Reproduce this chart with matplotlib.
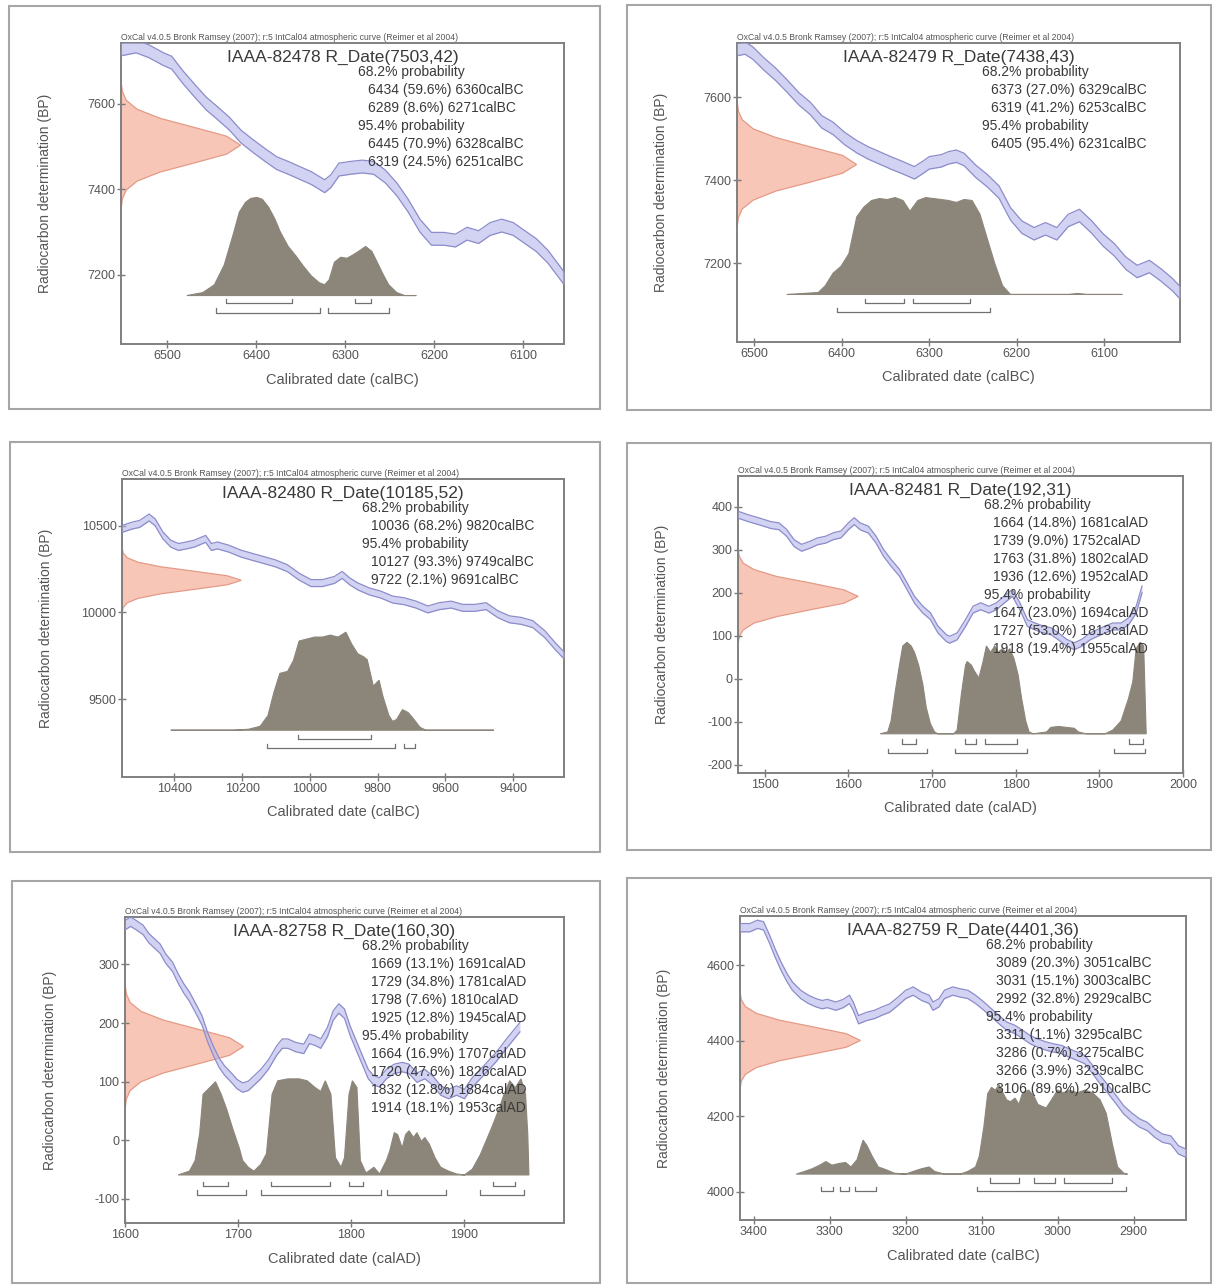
import matplotlib
matplotlib.use('Agg')
import matplotlib.pyplot as plt
from matplotlib.patches import Rectangle

plt.rcParams['font.family'] = ['Liberation Sans', 'DejaVu Sans']
plt.rcParams['axes.unicode_minus'] = False

FIG_W, FIG_H = 1213, 1285

HEADER = 'OxCal v4.0.5 Bronk Ramsey (2007); r:5 IntCal04 atmospheric curve (Reimer et al 2004)'

# ---- данные ----
lab_codes = ['IAAA-82478', 'IAAA-82479', 'IAAA-82480', 'IAAA-82481', 'IAAA-82758', 'IAAA-82759']
r_dates = ['7503,42', '7438,43', '10185,52', '192,31', '160,30', '4401,36']
eras = ['BC', 'BC', 'BC', 'AD', 'AD', 'BC']

# интервалы: (начало, процент, конец)
ranges_68 = [
    [(6434, 59.6, 6360), (6289, 8.6, 6271)],
    [(6373, 27.0, 6329), (6319, 41.2, 6253)],
    [(10036, 68.2, 9820)],
    [(1664, 14.8, 1681), (1739, 9.0, 1752), (1763, 31.8, 1802), (1936, 12.6, 1952)],
    [(1669, 13.1, 1691), (1729, 34.8, 1781), (1798, 7.6, 1810), (1925, 12.8, 1945)],
    [(3089, 20.3, 3051), (3031, 15.1, 3003), (2992, 32.8, 2929)],
]
ranges_95 = [
    [(6445, 70.9, 6328), (6319, 24.5, 6251)],
    [(6405, 95.4, 6231)],
    [(10127, 93.3, 9749), (9722, 2.1, 9691)],
    [(1647, 23.0, 1694), (1727, 53.0, 1813), (1918, 19.4, 1955)],
    [(1664, 16.9, 1707), (1720, 47.6, 1826), (1832, 12.8, 1884), (1914, 18.1, 1953)],
    [(3311, 1.1, 3295), (3286, 0.7, 3275), (3266, 3.9, 3239), (3106, 89.6, 2910)],
]

x_limits = [(6552, 6054), (6520, 6013), (10555, 9250), (1468, 2000), (1600, 1988), (3418, 2831)]
y_limits = [(7038, 7742), (7010, 7731), (9051, 10769), (-219, 472), (-141, 381), (3925, 4731)]
x_ticks = [[6500, 6400, 6300, 6200, 6100], [6500, 6400, 6300, 6200, 6100],
           [10400, 10200, 10000, 9800, 9600, 9400], [1500, 1600, 1700, 1800, 1900, 2000],
           [1600, 1700, 1800, 1900], [3400, 3300, 3200, 3100, 3000, 2900]]
y_ticks = [[7200, 7400, 7600], [7200, 7400, 7600], [9500, 10000, 10500],
           [-200, -100, 0, 100, 200, 300, 400], [-100, 0, 100, 200, 300],
           [4000, 4200, 4400, 4600]]

# калибровочная кривая: (год, BP) и полуширина полосы
p1_cal = [(6552, 7727), (6535, 7734), (6521, 7723), (6504, 7704), (6495, 7696), (6482, 7661),
          (6469, 7630), (6456, 7600), (6443, 7577), (6430, 7553), (6417, 7523), (6403, 7500),
          (6390, 7480), (6377, 7461), (6364, 7450), (6351, 7438), (6338, 7426), (6323, 7407),
          (6316, 7419), (6307, 7446), (6294, 7450), (6281, 7453), (6268, 7450), (6255, 7430),
          (6242, 7400), (6229, 7361), (6216, 7315), (6203, 7284), (6189, 7284), (6176, 7280),
          (6163, 7296), (6150, 7288), (6137, 7307), (6124, 7315), (6111, 7307), (6098, 7288),
          (6085, 7269), (6072, 7242), (6054, 7192)]
p2_cal = [(6520, 7715), (6511, 7719), (6502, 7707), (6489, 7680), (6476, 7656), (6463, 7628),
          (6449, 7596), (6436, 7573), (6423, 7541), (6410, 7525), (6397, 7501), (6383, 7481),
          (6370, 7466), (6357, 7454), (6344, 7442), (6330, 7430), (6317, 7418), (6308, 7430),
          (6300, 7442), (6286, 7447), (6278, 7454), (6269, 7458), (6260, 7450), (6247, 7422),
          (6233, 7398), (6220, 7371), (6207, 7319), (6194, 7287), (6180, 7271), (6167, 7283),
          (6154, 7271), (6141, 7303), (6128, 7315), (6114, 7287), (6101, 7256), (6088, 7232),
          (6075, 7200), (6062, 7180), (6048, 7192), (6035, 7172), (6022, 7149), (6013, 7129)]
p3_cal = [(10555, 10481), (10526, 10500), (10503, 10510), (10475, 10547), (10457, 10519),
          (10434, 10443), (10411, 10396), (10388, 10377), (10365, 10386), (10342, 10396),
          (10319, 10415), (10308, 10424), (10291, 10377), (10273, 10386), (10239, 10367),
          (10204, 10339), (10170, 10320), (10135, 10301), (10101, 10282), (10066, 10254),
          (10032, 10206), (9997, 10169), (9963, 10169), (9928, 10187), (9905, 10216),
          (9882, 10178), (9859, 10150), (9825, 10121), (9790, 10102), (9756, 10074),
          (9721, 10064), (9687, 10045), (9652, 10017), (9618, 10036), (9583, 10045),
          (9549, 10026), (9514, 10026), (9480, 10036), (9445, 9989), (9411, 9960),
          (9376, 9951), (9342, 9932), (9307, 9875), (9273, 9799), (9250, 9752)]
p4_cal = [(1468, 382), (1480, 374), (1494, 366), (1507, 358), (1517, 355), (1526, 340),
          (1535, 316), (1544, 305), (1554, 312), (1563, 320), (1573, 324), (1582, 332),
          (1591, 336), (1600, 355), (1607, 367), (1614, 355), (1624, 347), (1633, 324),
          (1642, 293), (1651, 270), (1661, 247), (1670, 216), (1679, 184), (1689, 161),
          (1698, 146), (1707, 115), (1717, 95), (1721, 91), (1730, 99), (1740, 130),
          (1749, 161), (1758, 169), (1768, 161), (1777, 169), (1786, 184), (1796, 200),
          (1805, 169), (1814, 130), (1823, 122), (1833, 115), (1842, 111), (1851, 99),
          (1861, 84), (1870, 76), (1879, 84), (1889, 99), (1898, 107), (1907, 115),
          (1916, 122), (1926, 122), (1935, 134), (1944, 161), (1951, 208)]
p5_cal = [(1600, 367), (1605, 373), (1610, 367), (1616, 359), (1621, 345), (1626, 336),
          (1631, 327), (1636, 310), (1642, 296), (1647, 276), (1652, 259), (1657, 245),
          (1662, 227), (1668, 205), (1673, 176), (1678, 153), (1683, 133), (1688, 119),
          (1694, 107), (1699, 96), (1704, 90), (1709, 93), (1714, 102), (1720, 113),
          (1727, 130), (1734, 153), (1739, 165), (1744, 165), (1751, 159), (1758, 156),
          (1763, 173), (1768, 170), (1773, 165), (1779, 185), (1784, 213), (1789, 225),
          (1794, 216), (1799, 187), (1805, 159), (1810, 136), (1815, 113), (1820, 102),
          (1825, 99), (1831, 113), (1838, 122), (1845, 125), (1851, 122), (1858, 107),
          (1865, 113), (1872, 102), (1879, 85), (1886, 79), (1893, 85), (1900, 79),
          (1907, 99), (1917, 119), (1928, 142), (1938, 167), (1949, 193)]
p6_cal = [(3418, 4700), (3405, 4700), (3395, 4709), (3387, 4705), (3379, 4669), (3372, 4634),
          (3364, 4598), (3356, 4567), (3349, 4545), (3338, 4523), (3328, 4510), (3318, 4501),
          (3310, 4496), (3303, 4499), (3292, 4492), (3282, 4499), (3274, 4510), (3269, 4492),
          (3262, 4456), (3251, 4465), (3241, 4470), (3231, 4479), (3221, 4487), (3210, 4505),
          (3200, 4523), (3190, 4532), (3179, 4518), (3169, 4510), (3164, 4492), (3156, 4501),
          (3149, 4523), (3138, 4532), (3128, 4527), (3118, 4523), (3108, 4510), (3097, 4492),
          (3087, 4474), (3077, 4456), (3067, 4439), (3056, 4430), (3046, 4417), (3036, 4403),
          (3026, 4394), (3015, 4386), (3005, 4381), (2995, 4377), (2985, 4368), (2974, 4359),
          (2964, 4350), (2954, 4324), (2944, 4297), (2933, 4270), (2923, 4244), (2913, 4217),
          (2903, 4199), (2892, 4182), (2882, 4173), (2872, 4155), (2862, 4142), (2851, 4137),
          (2841, 4111), (2831, 4102)]
cal_curves = [p1_cal, p2_cal, p3_cal, p4_cal, p5_cal, p6_cal]
cal_err = [15, 15, 20, 8, 8, 11]

# калиброванное распределение: (год, отн. вероятность)
p1_dist = [(6478, 0), (6460, 0.03), (6447, 0.11), (6436, 0.31), (6425, 0.65), (6419, 0.85),
           (6412, 0.95), (6406, 0.99), (6399, 1.0), (6393, 0.98), (6386, 0.90), (6379, 0.78),
           (6373, 0.65), (6364, 0.50), (6355, 0.40), (6347, 0.30), (6338, 0.20), (6329, 0.13),
           (6323, 0.11), (6318, 0.16), (6312, 0.34), (6305, 0.39), (6298, 0.38), (6292, 0.41),
           (6285, 0.45), (6277, 0.50), (6270, 0.45), (6264, 0.34), (6257, 0.21), (6251, 0.11),
           (6242, 0.03), (6233, 0), (6220, 0)]
p2_dist = [(6463, 0), (6427, 0.02), (6419, 0.09), (6410, 0.22), (6401, 0.29), (6392, 0.42),
           (6383, 0.80), (6375, 0.90), (6366, 0.97), (6357, 0.99), (6348, 0.98), (6339, 1.0),
           (6330, 0.97), (6322, 0.86), (6313, 0.97), (6304, 1.0), (6295, 0.99), (6286, 0.98),
           (6278, 0.97), (6269, 0.95), (6260, 0.98), (6251, 0.97), (6242, 0.83), (6233, 0.56),
           (6225, 0.32), (6216, 0.09), (6207, 0), (6140, 0), (6130, 0.01), (6120, 0), (6079, 0)]
p3_dist = [(10411, 0), (10227, 0), (10181, 0.01), (10147, 0.04), (10124, 0.15), (10107, 0.38),
           (10089, 0.58), (10066, 0.60), (10049, 0.71), (10032, 0.91), (10009, 0.93),
           (9986, 0.95), (9963, 0.95), (9940, 0.97), (9917, 0.95), (9894, 1.0), (9877, 0.88),
           (9859, 0.78), (9842, 0.75), (9831, 0.72), (9813, 0.45), (9796, 0.51), (9785, 0.35),
           (9767, 0.15), (9756, 0.09), (9744, 0.11), (9727, 0.21), (9710, 0.18), (9693, 0.11),
           (9675, 0.03), (9658, 0), (9457, 0)]
p4_dist = [(1638, 0), (1647, 0.02), (1651, 0.14), (1656, 0.46), (1661, 0.75), (1665, 0.96),
           (1670, 1.0), (1675, 0.96), (1679, 0.89), (1684, 0.75), (1689, 0.54), (1693, 0.29),
           (1698, 0.11), (1703, 0.02), (1707, 0), (1726, 0), (1730, 0.04), (1735, 0.43),
           (1740, 0.75), (1742, 0.79), (1747, 0.75), (1751, 0.68), (1756, 0.61), (1761, 0.79),
           (1765, 0.96), (1770, 0.89), (1775, 0.96), (1779, 0.89), (1784, 0.93), (1789, 0.89),
           (1793, 0.93), (1798, 0.82), (1803, 0.64), (1807, 0.39), (1812, 0.14), (1816, 0.02),
           (1821, 0), (1837, 0.02), (1842, 0.07), (1851, 0.08), (1861, 0.07), (1870, 0.06),
           (1875, 0.02), (1884, 0), (1907, 0), (1916, 0.04), (1926, 0.14), (1935, 0.39),
           (1940, 0.57), (1944, 0.93), (1949, 1.0), (1953, 0.96), (1956, 0)]
p5_dist = [(1647, 0), (1657, 0.04), (1662, 0.15), (1666, 0.43), (1669, 0.84), (1675, 0.91),
           (1680, 0.97), (1685, 0.84), (1690, 0.68), (1695, 0.49), (1701, 0.28), (1704, 0.15),
           (1709, 0.08), (1714, 0.04), (1720, 0.11), (1725, 0.22), (1730, 0.84), (1735, 0.98),
           (1744, 1.0), (1754, 1.0), (1761, 0.98), (1768, 0.91), (1773, 0.87), (1777, 0.98),
           (1782, 0.84), (1786, 0.18), (1791, 0.08), (1794, 0.18), (1798, 0.84), (1801, 0.98),
           (1805, 0.91), (1808, 0.15), (1813, 0.02), (1820, 0.08), (1825, 0.01), (1831, 0.15),
           (1834, 0.25), (1838, 0.44), (1841, 0.42), (1845, 0.28), (1848, 0.42), (1851, 0.46),
           (1855, 0.39), (1858, 0.44), (1862, 0.35), (1865, 0.39), (1869, 0.32), (1874, 0.18),
           (1879, 0.08), (1886, 0.04), (1893, 0.01), (1900, 0), (1907, 0.06), (1914, 0.21),
           (1919, 0.35), (1924, 0.49), (1931, 0.70), (1935, 0.84), (1940, 0.98), (1945, 0.91),
           (1950, 1.0), (1954, 0.84), (1956, 0.42), (1957, 0)]
p6_dist = [(3344, 0), (3333, 0.03), (3323, 0.06), (3313, 0.10), (3305, 0.14), (3297, 0.10),
           (3287, 0.12), (3279, 0.13), (3272, 0.08), (3264, 0.16), (3256, 0.38), (3251, 0.32),
           (3244, 0.20), (3236, 0.08), (3226, 0.05), (3215, 0.01), (3200, 0), (3190, 0.03),
           (3179, 0.06), (3169, 0.08), (3162, 0.03), (3149, 0), (3128, 0), (3118, 0.03),
           (3108, 0.08), (3103, 0.20), (3097, 0.53), (3092, 0.90), (3087, 0.97), (3082, 0.94),
           (3077, 1.0), (3072, 0.91), (3067, 0.83), (3062, 0.81), (3056, 0.85), (3051, 0.78),
           (3046, 0.91), (3038, 0.94), (3031, 0.87), (3026, 0.78), (3021, 0.76), (3015, 0.74),
           (3008, 0.83), (3000, 0.94), (2992, 0.91), (2985, 0.94), (2974, 0.91), (2964, 0.94),
           (2954, 0.91), (2944, 0.83), (2936, 0.68), (2928, 0.34), (2921, 0.08), (2913, 0.01),
           (2908, 0)]
cal_dists = [p1_dist, p2_dist, p3_dist, p4_dist, p5_dist, p6_dist]

# радиоуглеродное распределение слева: значения BP и общая форма
p1_red_bp = [7356, 7377, 7398, 7419, 7440, 7461, 7482, 7503, 7524, 7545, 7566, 7587, 7608, 7629, 7650]
p2_red_bp = [7288, 7309, 7331, 7352, 7374, 7395, 7417, 7438, 7460, 7481, 7503, 7524, 7546, 7567, 7589]
p3_red_bp = [10003, 10029, 10055, 10081, 10107, 10133, 10159, 10185, 10211, 10237, 10263, 10289,
             10315, 10341, 10367]
p4_red_bp = [83, 99, 114, 130, 145, 161, 176, 192, 207, 223, 238, 254, 269, 285, 300]
p5_red_bp = [55, 70, 85, 100, 115, 130, 145, 160, 175, 190, 205, 220, 235, 250, 265]
p6_red_bp = [4275, 4293, 4311, 4329, 4347, 4365, 4383, 4401, 4419, 4437, 4455, 4473, 4491, 4509, 4527]
red_bps = [p1_red_bp, p2_red_bp, p3_red_bp, p4_red_bp, p5_red_bp, p6_red_bp]
red_shape = [0.002, 0.011, 0.044, 0.135, 0.325, 0.607, 0.882, 1.0, 0.882, 0.607, 0.325, 0.135,
             0.044, 0.011, 0.002]

# ---- раскладка (пиксели) ----
axes_px = [(121, 43, 564, 344), (737, 43, 1180, 342), (122, 479, 564, 777),
           (738, 476, 1183, 773), (125, 917, 564, 1223), (740, 916, 1186, 1220)]
frames_px = [(9, 6, 600, 409), (627, 5, 1211, 410), (10, 442, 600, 852),
             (627, 443, 1211, 850), (12, 881, 600, 1283), (627, 878, 1211, 1283)]
# база, высота, ряд 68%, ряд 95% (доли оси)
dist_layout = [(0.161, 0.326, 0.137, 0.104), (0.159, 0.324, 0.130, 0.099),
               (0.157, 0.329, 0.127, 0.096), (0.132, 0.308, 0.099, 0.068),
               (0.157, 0.314, 0.121, 0.093), (0.151, 0.294, 0.123, 0.096)]
text_x = [0.536, 0.552, 0.543, 0.552, 0.539, 0.552]

RED_W = 0.27
TXT = '#3a3a3a'

fig = plt.figure(figsize=(FIG_W / 100, FIG_H / 100), dpi=100)
fig.patch.set_facecolor('white')

for i in range(6):
    # рамка панели
    x0, y0, x1, y1 = frames_px[i]
    fig.add_artist(Rectangle((x0 / FIG_W, 1 - y1 / FIG_H), (x1 - x0) / FIG_W, (y1 - y0) / FIG_H,
                             transform=fig.transFigure, fill=False, ec='#a6a6a6', lw=1.5))

    l, t, r, b = axes_px[i]
    ax = fig.add_axes([l / FIG_W, 1 - b / FIG_H, (r - l) / FIG_W, (b - t) / FIG_H])
    ax_h = b - t

    # красное распределение (ось X в долях)
    bp = red_bps[i]
    w = [s * RED_W for s in red_shape]
    ax.fill([0] + w + [0], [bp[0]] + bp + [bp[-1]], transform=ax.get_yaxis_transform(),
            fc='#f8c6b6', ec='#e49a86', lw=0.9, zorder=1)

    # серое калиброванное распределение
    base, height, row68, row95 = dist_layout[i]
    dx, dp = zip(*cal_dists[i])
    dy = [base + height * p for p in dp]
    ax.fill([dx[0]] + list(dx) + [dx[-1]], [base] + dy + [base],
            transform=ax.get_xaxis_transform(), fc='#8c857a', ec='#8c857a', lw=0.8, zorder=2)

    # калибровочная кривая
    cx, cy = zip(*cal_curves[i])
    lo = [v - cal_err[i] for v in cy]
    hi = [v + cal_err[i] for v in cy]
    ax.fill_between(cx, lo, hi, color='#b4b4ec', alpha=0.6, lw=0, zorder=3)
    ax.plot(cx, lo, color='#8c8cca', lw=0.9, zorder=3)
    ax.plot(cx, hi, color='#8c8cca', lw=0.9, zorder=3)

    # скобки интервалов
    for rows, yrow in ((ranges_68[i], row68), (ranges_95[i], row95)):
        for a, _, e in rows:
            ax.plot([a, a, e, e], [yrow + 0.014, yrow, yrow, yrow + 0.014],
                    transform=ax.get_xaxis_transform(), color='#707070', lw=0.9, zorder=4)

    # тексты
    era = eras[i]
    ax.text(0.0, 1.002, HEADER, transform=ax.transAxes, ha='left', va='bottom',
            fontsize=6.2, color='#555555')
    ax.text(0.5, 1 - 14 / ax_h, f'{lab_codes[i]} R_Date({r_dates[i]})', transform=ax.transAxes,
            ha='center', va='center', fontsize=12.5, color=TXT, zorder=6)
    lines = [('68.2% probability', 0)]
    lines += [(f'{a} ({p:.1f}%) {e}cal{era}', 1) for a, p, e in ranges_68[i]]
    lines += [('95.4% probability', 0)]
    lines += [(f'{a} ({p:.1f}%) {e}cal{era}', 1) for a, p, e in ranges_95[i]]
    for k, (s, ind) in enumerate(lines):
        ax.text(text_x[i] + 0.021 * ind, 1 - (29 + 18 * k) / ax_h, s, transform=ax.transAxes,
                ha='left', va='center', fontsize=10, color=TXT, zorder=6)

    ax.set_xlim(*x_limits[i])
    ax.set_ylim(*y_limits[i])
    ax.set_xticks(x_ticks[i])
    ax.set_yticks(y_ticks[i])
    ax.tick_params(direction='inout', length=6, width=1, colors='#7a7a7a',
                   labelcolor='#555555', labelsize=9, pad=1)
    for sp in ax.spines.values():
        sp.set_color('#808080')
        sp.set_linewidth(1.4)

    ax.set_ylabel('Radiocarbon determination (BP)', fontsize=10, color='#555555')
    ax.yaxis.set_label_coords(-0.155, 0.5)
    ax.set_xlabel(f'Calibrated date (cal{era})', fontsize=10.5, color='#555555')
    ax.xaxis.set_label_coords(0.5, -0.095)

plt.savefig('out.png', dpi=100)
plt.close()
